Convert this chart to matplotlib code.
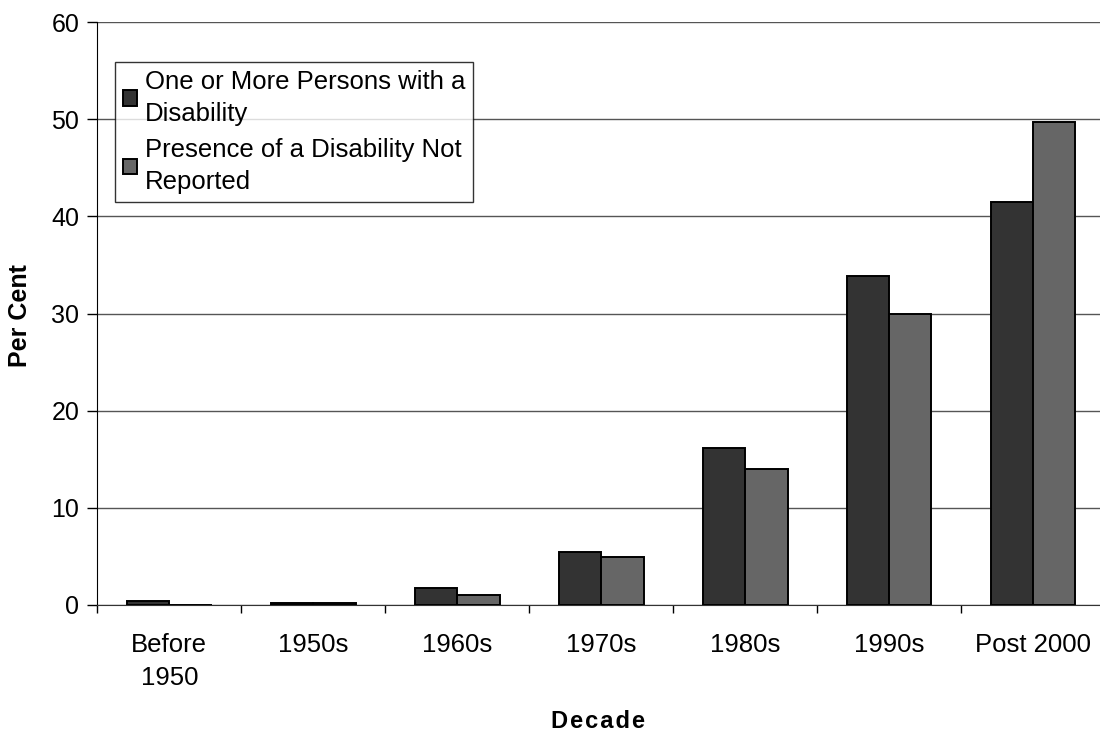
import matplotlib.pyplot as plt
import numpy as np

plt.rcParams['font.family'] = ['Liberation Sans', 'DejaVu Sans']

decades = ["Before\n1950", "1950s", "1960s", "1970s", "1980s", "1990s", "Post 2000"]
with_disability = [0.4, 0.2, 1.8, 5.5, 16.2, 33.9, 41.5]
not_reported = [0.0, 0.2, 1.0, 4.9, 14.0, 30.0, 49.7]

fig = plt.figure(figsize=(11, 7.36), dpi=100)
# the plot area runs a little past the right edge of the picture, as in the original
ax = fig.add_axes([0.0885, 0.178, 0.916, 0.792])

x = np.arange(len(decades))
w = 0.295
ax.bar(x - w / 2, with_disability, w, color="#333333", edgecolor="black", linewidth=1.4,
       label="One or More Persons with a\nDisability", zorder=3)
ax.bar(x + w / 2, not_reported, w, color="#666666", edgecolor="black", linewidth=1.4,
       label="Presence of a Disability Not\nReported", zorder=3)

ax.set_xlim(-0.5, len(decades) - 0.5)
ax.set_ylim(0, 60)
ax.set_yticks(range(0, 61, 10))
ax.yaxis.grid(True, color="#555555", linewidth=1, zorder=0)
ax.set_axisbelow(True)

ax.set_xticks(x)
ax.set_xticklabels(decades, fontsize=18.5, linespacing=1.5)
ax.set_xticks(np.arange(-0.5, len(decades), 1), minor=True)
ax.tick_params(axis="x", which="major", length=0, pad=20)
ax.tick_params(axis="x", which="minor", length=6, width=1, direction="out")
ax.tick_params(axis="y", labelsize=18, length=7, width=1, direction="out", pad=6)

for s in ["top", "right"]:
    ax.spines[s].set_visible(False)
ax.spines["left"].set_color("black")
ax.spines["bottom"].set_color("#333333")

fig.text(598 / 1100, 1 - 721 / 736, "\u200a".join("Decade"), fontsize=17, fontweight="bold",
         ha="center", va="center")
fig.text(20 / 1100, 1 - 316 / 736, "Per Cent", fontsize=18, fontweight="bold",
         ha="center", va="center", rotation=90)

leg = ax.legend(loc="upper left", bbox_to_anchor=(0.0175, 0.931), fontsize=18.5, frameon=True,
                fancybox=False, edgecolor="black", handlelength=0.55, handleheight=0.55,
                handletextpad=0.3, labelspacing=0.5, borderpad=0.3, borderaxespad=0)
leg.get_frame().set_linewidth(1)
for t in leg.get_texts():
    t.set_linespacing(1.4)

fig.savefig("out.png", dpi=100)
